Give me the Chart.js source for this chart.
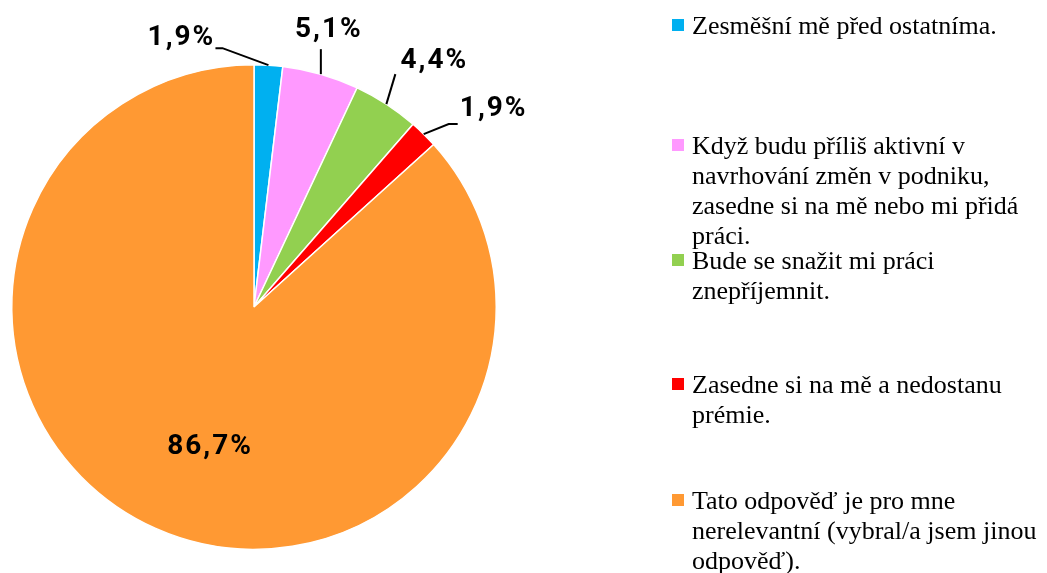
<!DOCTYPE html>
<html><head><meta charset="utf-8">
<script src="https://cdn.jsdelivr.net/npm/chart.js@4"></script>
<style>
html,body{margin:0;padding:0;background:#fff;width:1047px;height:573px;overflow:hidden;}
#wrap{position:absolute;left:0;top:0;width:1047px;height:573px;}
</style></head>
<body>
<div id="wrap"><canvas id="c" width="1047" height="573"></canvas></div>
<script>
const categories = [
  "Zesměšní mě před ostatníma.",
  "Když budu příliš aktivní v navrhování změn v podniku, zasedne si na mě nebo mi přidá práci.",
  "Bude se snažit mi práci znepříjemnit.",
  "Zasedne si na mě a nedostanu prémie.",
  "Tato odpověď je pro mne nerelevantní (vybral/a jsem jinou odpověď)."
];
const values = [1.9, 5.1, 4.4, 1.9, 86.7];
const valueLabels = ["1,9%", "5,1%", "4,4%", "1,9%", "86,7%"];
const colors = ["#00B0F0", "#FF99FF", "#92D050", "#FF0000", "#FF9933"];

// layout (not data)
const legendTops = [8, 128, 243, 367, 483];
const labelPlacement = [
  {lx:-87, ly:-27, ex:-46, ey:-17, hx:-53},
  {lx:8, ly:-44, ex:0, ey:-25, hx:0},
  {lx:48, ly:-43, ex:9, ey:-30, hx:9},
  {lx:70, ly:-25, ex:25, ey:-10, hx:34},
  {inside:true, dx:15, dy:7}
];
const LABEL_FONT = '700 28px Roboto';
const LEGEND_FONT = "26px 'Liberation Serif'";

function wrapText(ctx, text, maxW){
  const words = text.split(' ');
  const lines = [];
  let cur = '';
  words.forEach(w=>{
    const t = cur ? cur + ' ' + w : w;
    if (cur && ctx.measureText(t).width > maxW){ lines.push(cur); cur = w; }
    else cur = t;
  });
  if (cur) lines.push(cur);
  return lines;
}

const legendPlugin = {
  id:'sideLegend',
  afterDraw(chart){
    const ctx = chart.ctx;
    ctx.save();
    ctx.font = LEGEND_FONT + ", 'Times New Roman', serif";
    ctx.textAlign = 'left';
    ctx.textBaseline = 'alphabetic';
    categories.forEach((c,i)=>{
      const top = legendTops[i];
      ctx.fillStyle = colors[i];
      ctx.fillRect(672, top+11, 12, 12);
      ctx.fillStyle = '#000';
      wrapText(ctx, c, 360).forEach((ln,k)=>{
        ctx.fillText(ln, 692, top + 26 + k*30);
      });
    });
    ctx.restore();
  }
};

const labelPlugin = {
  id:'labels',
  afterDatasetsDraw(chart){
    const ctx = chart.ctx;
    const meta = chart.getDatasetMeta(0);
    ctx.save();
    ctx.font = LABEL_FONT + ', sans-serif';
    try { ctx.letterSpacing = '2px'; } catch(e) {}
    ctx.fillStyle = '#000';
    ctx.textAlign = 'center';
    ctx.textBaseline = 'middle';
    meta.data.forEach((arc,i)=>{
      const p = labelPlacement[i];
      const mid = (arc.startAngle + arc.endAngle)/2;
      if (p.inside){
        const r = arc.outerRadius*0.6;
        ctx.fillText(valueLabels[i], arc.x + Math.cos(mid)*r + p.dx, arc.y + Math.sin(mid)*r + p.dy);
        return;
      }
      const ax = arc.x + Math.cos(mid)*arc.outerRadius;
      const ay = arc.y + Math.sin(mid)*arc.outerRadius;
      ctx.strokeStyle = '#000'; ctx.lineWidth = 2;
      ctx.beginPath();
      ctx.moveTo(ax, ay);
      ctx.lineTo(ax+p.ex, ay+p.ey);
      ctx.lineTo(ax+p.hx, ay+p.ey);
      ctx.stroke();
      ctx.fillText(valueLabels[i], ax+p.lx, ay+p.ly);
    });
    ctx.restore();
  }
};

function draw(){
  new Chart(document.getElementById('c'), {
    type:'pie',
    data:{labels:categories, datasets:[{data:values, backgroundColor:colors, borderColor:'#fff', borderWidth:1.5}]},
    options:{
      responsive:false, animation:false,
      layout:{padding:{left:11, right:550, top:64, bottom:23}},
      plugins:{legend:{display:false}, tooltip:{enabled:false}},
      hover:{mode:null}
    },
    plugins:[labelPlugin, legendPlugin]
  });
}
Promise.all([
  document.fonts.load(LABEL_FONT),
  document.fonts.load(LEGEND_FONT)
]).then(draw, draw);
</script>
</body></html>
